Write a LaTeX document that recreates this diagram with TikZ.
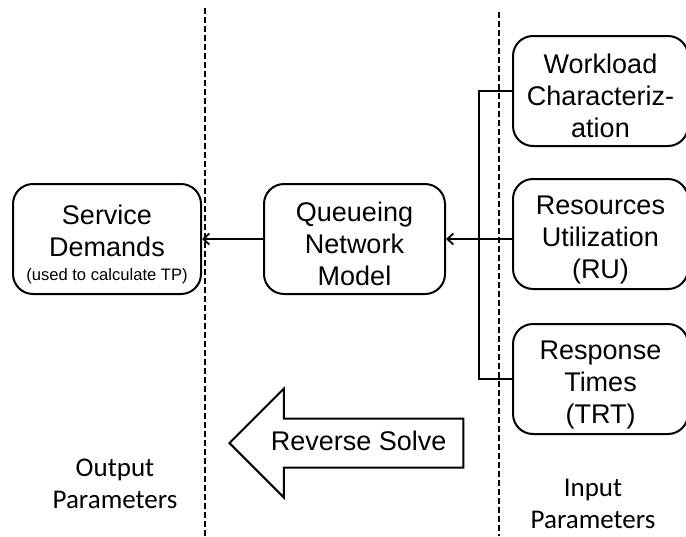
\documentclass[tikz,border=0pt]{standalone}
\usepackage{fontspec}
\setmainfont{Liberation Sans}
\newfontfamily\paramfont{Carlito}
\usetikzlibrary{positioning, shapes.arrows, arrows.meta}
\newcommand\dropline{\rule{0pt}{15pt}} % pushes the first line of a box down a little
\tikzset{
    x=0.5pt, y=-0.5pt, % one unit is one pixel of the original
    block/.style={draw, line width=1pt, rounded corners=10pt, align=center, inner ysep=1pt,
        font=\fontsize{13.5}{16}\selectfont, minimum width=91pt, minimum height=55pt}, % the rounded boxes
    param/.style={align=center, font=\paramfont\fontsize{13.5}{16}\selectfont}, % the column captions
    divider/.style={line width=1pt, dash pattern=on 3pt off 1.5pt}, % the dashed separators
    link/.style={line width=0.9pt}, % connectors
    >={Straight Barb[length=3pt,width=5.5pt]}, % open arrow heads
}
\begin{document}
\begin{tikzpicture}
    \useasboundingbox (0,0) rectangle (686,536);
    \clip (0,0) rectangle (686,536);
    \draw[divider] (205,8) -- (205,536);
    \draw[divider] (499,12) -- (499,536);
    \node[block, minimum width=90.5pt] (qnm) at (354.5,239) {\dropline Queueing\\Network\\Model};
    \node[block, minimum width=94pt, left=30.5pt of qnm] (sd) {\dropline Service\\Demands\\[-4pt]{\fontsize{8.3}{10}\selectfont(used to calculate TP)}};
    \node[block, minimum width=87.5pt] (wl) at (600.5,91) {\dropline Workload\\Characteriz-\\ation};
    \node[block, minimum width=87.5pt, below=15.5pt of wl] (ru) {\dropline Resources\\Utilization\\(RU)};
    \node[block, minimum width=87.5pt, below=16.5pt of ru] (rt) {\dropline Response\\Times\\(TRT)};
    \draw[link] (wl.west) -- ++(-16.5pt,0) |- (rt.west);
    \draw[link, ->] (ru.west |- qnm.east) -- (qnm.east);
    \draw[link, ->] (qnm.west) -- (sd.east);
    \node[single arrow, draw, line width=1pt, shape border rotate=180,
        single arrow head extend=15pt, minimum height=117pt, inner ysep=5.75pt,
        text height=9.5pt, text depth=2.5pt, font=\fontsize{13.5}{16}\selectfont,
        anchor=tip] (rev) at (228,443) {Reverse Solve};
    \node[param] (out) at (115,484) {Output\\Parameters};
    \node[param] (in) at (593,504) {Input\\Parameters};
\end{tikzpicture}
\end{document}
